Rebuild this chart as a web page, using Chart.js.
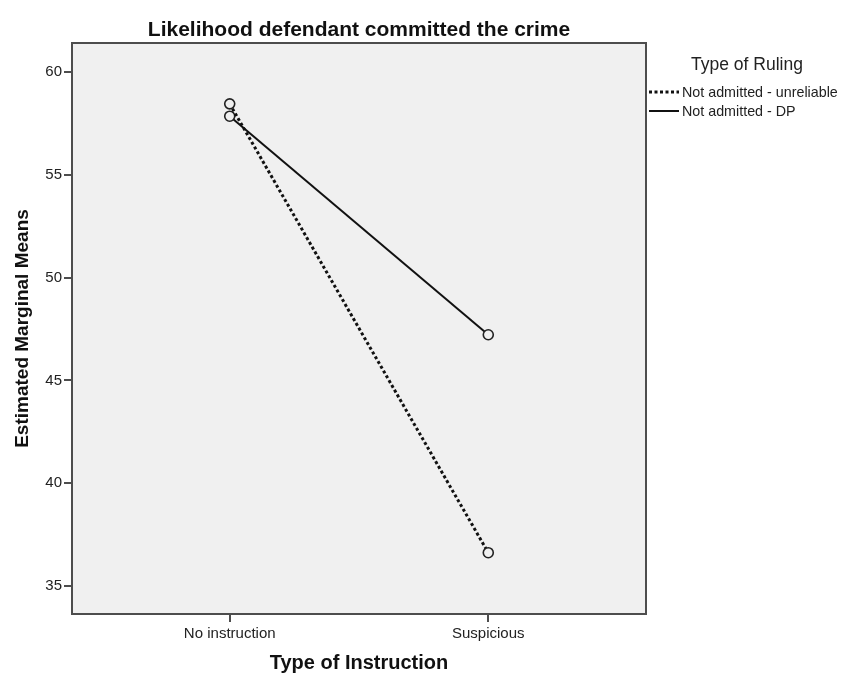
<!DOCTYPE html>
<html>
<head>
<meta charset="utf-8">
<script src="https://cdn.jsdelivr.net/npm/chart.js@4.4.0/dist/chart.umd.min.js"></script>
<style>
  html, body { margin: 0; padding: 0; background: #fff; }
  #wrap { width: 843px; height: 677px; }
</style>
</head>
<body>
<div id="wrap"><canvas id="marginalMeansChart" width="843" height="677"></canvas></div>
<script>
var instructionTypes = ['No instruction', 'Suspicious'];
var unreliableMeans = [58.45, 36.62];
var dpMeans = [57.85, 47.22];
var yTickValues = [35, 40, 45, 50, 55, 60];

var FONT = "'Liberation Sans', Arial, sans-serif";
var plotBg = '#f0f0f0';
var frameColor = '#4d4d4d';

function toPoints(values) {
  return values.map(function (v, i) { return { x: i, y: v }; });
}

// grey panel + frame like SPSS
var panelPlugin = {
  id: 'panel',
  beforeDraw: function (chart) {
    var a = chart.chartArea, ctx = chart.ctx;
    ctx.save();
    ctx.fillStyle = plotBg;
    ctx.fillRect(a.left, a.top, a.right - a.left, a.bottom - a.top);
    ctx.restore();
  },
  afterDraw: function (chart) {
    var a = chart.chartArea, ctx = chart.ctx;
    ctx.save();
    ctx.strokeStyle = frameColor;
    ctx.lineWidth = 2;
    ctx.strokeRect(a.left, a.top, a.right - a.left, a.bottom - a.top);
    ctx.restore();
  }
};

// legend on the right with a title
var rulingLegend = {
  id: 'rulingLegend',
  afterDraw: function (chart) {
    var ctx = chart.ctx;
    ctx.save();
    ctx.fillStyle = '#222';
    ctx.textBaseline = 'middle';
    ctx.textAlign = 'center';
    ctx.font = '17.5px ' + FONT;
    ctx.fillText('Type of Ruling', 747, 65);
    ctx.textAlign = 'left';
    ctx.font = '14.3px ' + FONT;
    chart.data.datasets.forEach(function (ds, i) {
      var y = 92 + i * 19;
      ctx.beginPath();
      ctx.strokeStyle = ds.borderColor;
      ctx.lineWidth = ds.borderWidth;
      ctx.setLineDash(ds.borderDash || []);
      ctx.moveTo(649, y);
      ctx.lineTo(679, y);
      ctx.stroke();
      ctx.setLineDash([]);
      ctx.fillText(ds.label, 682, y + 1);
    });
    ctx.restore();
  }
};

var ctx = document.getElementById('marginalMeansChart').getContext('2d');
var marginalMeansChart = new Chart(ctx, {
  type: 'scatter',
  data: {
    datasets: [{
      label: 'Not admitted - unreliable',
      data: toPoints(unreliableMeans),
      showLine: true,
      borderColor: '#111',
      borderWidth: 3,
      borderDash: [3, 2.5],
      pointRadius: 5,
      pointBorderWidth: 1.6,
      pointBorderColor: '#222',
      pointBackgroundColor: plotBg
    }, {
      label: 'Not admitted - DP',
      data: toPoints(dpMeans),
      showLine: true,
      borderColor: '#111',
      borderWidth: 2,
      pointRadius: 5,
      pointBorderWidth: 1.6,
      pointBorderColor: '#222',
      pointBackgroundColor: plotBg
    }]
  },
  options: {
    responsive: false,
    animation: false,
    layout: { padding: { left: 0, right: 197, top: 0, bottom: 0 } },
    plugins: {
      legend: { display: false },
      tooltip: { enabled: false },
      title: {
        display: true,
        text: 'Likelihood defendant committed the crime',
        fullSize: false,
        color: '#111',
        font: { family: FONT, size: 21, weight: 'bold', lineHeight: 1.1 },
        padding: { top: 19, bottom: 0.9 }
      }
    },
    scales: {
      x: {
        type: 'linear',
        min: -0.61,
        max: 1.61,
        afterBuildTicks: function (scale) {
          scale.ticks = instructionTypes.map(function (c, i) { return { value: i }; });
        },
        afterFit: function (scale) { scale.height = 63; },
        border: { display: false },
        grid: { drawOnChartArea: false, drawTicks: true, tickLength: 8, color: frameColor, lineWidth: 2 },
        ticks: {
          color: '#222',
          font: { family: FONT, size: 15 },
          padding: 3,
          maxRotation: 0,
          callback: function (v) { return instructionTypes[v]; }
        },
        title: {
          display: true,
          text: 'Type of Instruction',
          color: '#111',
          font: { family: FONT, size: 20, weight: 'bold', lineHeight: 1.2 },
          padding: { top: 0, bottom: 2 }
        }
      },
      y: {
        min: 33.64,
        max: 61.41,
        afterBuildTicks: function (scale) {
          scale.ticks = yTickValues.map(function (v) { return { value: v }; });
        },
        afterFit: function (scale) { scale.width = 72; },
        border: { display: false },
        grid: { drawOnChartArea: false, drawTicks: true, tickLength: 8, color: frameColor, lineWidth: 2 },
        ticks: {
          color: '#222',
          font: { family: FONT, size: 15 },
          padding: 2
        },
        title: {
          display: true,
          text: 'Estimated Marginal Means',
          color: '#111',
          font: { family: FONT, size: 19, weight: 'bold', lineHeight: 1.2 },
          padding: { top: 11, bottom: 0 }
        }
      }
    }
  },
  plugins: [panelPlugin, rulingLegend]
});
</script>
</body>
</html>
